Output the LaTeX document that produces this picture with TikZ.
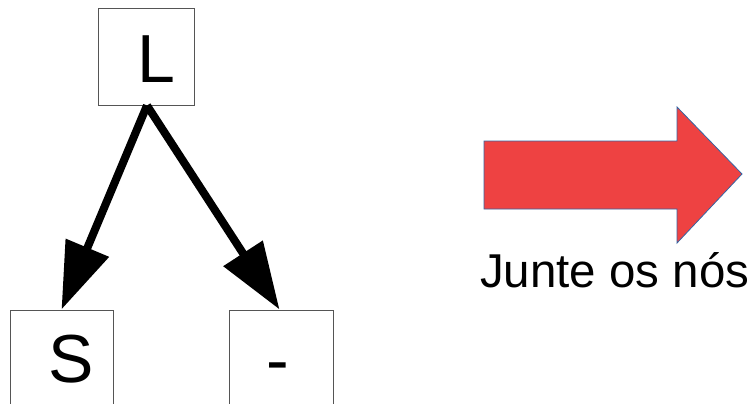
\documentclass[tikz,border=0pt]{standalone}
\usepackage{fontspec}
\setmainfont{Liberation Sans}
\usetikzlibrary{arrows.meta}
\definecolor{boxgray}{RGB}{85,85,85}
\definecolor{arrowred}{RGB}{238,66,66}
\definecolor{arrowblue}{RGB}{52,101,164}
\tikzset{
  treebox/.style={draw=boxgray, line width=1pt, inner sep=0pt, minimum width=#1},
  letter/.style={anchor=base west, inner sep=0pt, font=\fontsize{68}{68}\selectfont},
  treeedge/.style={line width=8pt, -{Triangle[length=67pt,width=45pt]}},
  caption/.style={anchor=base west, inner sep=0pt, font=\fontsize{47.5}{47.5}\selectfont},
}
\begin{document}
\begin{tikzpicture}[x=1pt,y=-1pt]
\clip (0,0) rectangle (752,404);
\fill[white] (0,0) rectangle (752,404);
% boxes
\node[treebox=96pt, minimum height=96pt] (Lbox) at (146,57) {};
\node[treebox=103pt, minimum height=120pt] (Sbox) at (61.5,370) {};
\node[treebox=104pt, minimum height=120pt] (Dbox) at (281,370) {};
% letters
\node[letter] (Ltxt) at (137,82) {L};
\node[letter] (Stxt) at (48.5,382) {S};
\node[letter] (Dtxt) at (266,383) {-};
% edges
\draw[treeedge] ([xshift=1pt]Lbox.south) -- ([xshift=52pt]Sbox.north west);
\draw[treeedge] ([xshift=1pt]Lbox.south) -- ([xshift=51pt]Dbox.north west);
% red arrow
\filldraw[fill=arrowred, draw=arrowblue, line width=0.8pt, line join=miter]
  (484,141) -- (677,141) -- (677,107) -- (742,174) -- (677,243) -- (677,209) -- (484,209) -- cycle;
\node[caption] (cap) at (480,287) {Junte os nós};
\end{tikzpicture}
\end{document}
